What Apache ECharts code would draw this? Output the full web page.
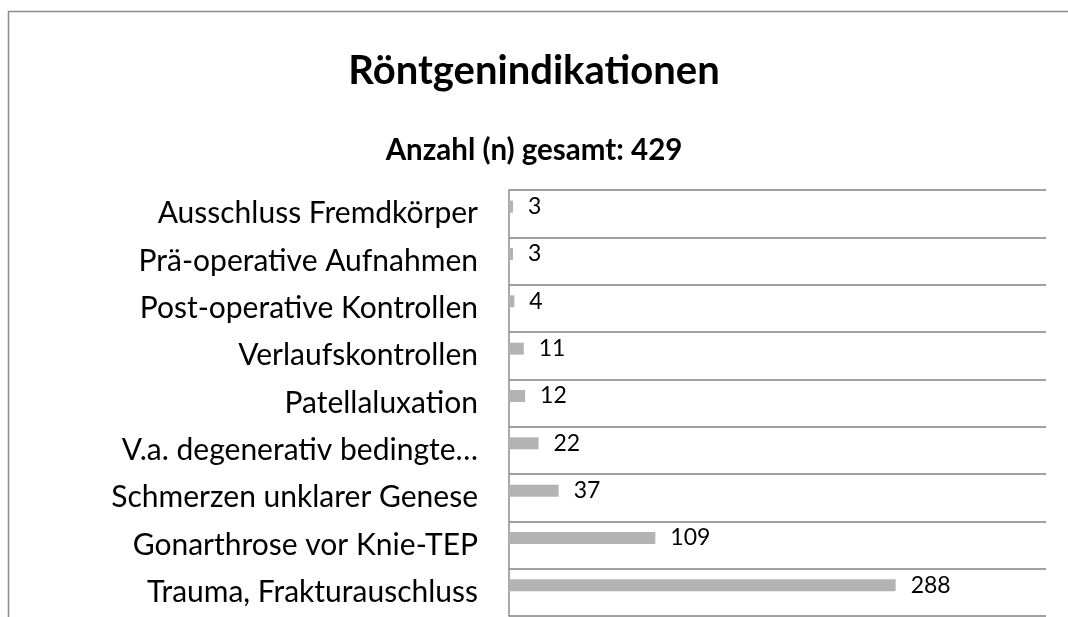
<!DOCTYPE html>
<html>
<head>
<meta charset="utf-8">
<script src="https://cdn.jsdelivr.net/npm/echarts@6/dist/echarts.min.js"></script>
<style>
  html, body { margin: 0; padding: 0; background: #fff; }
  #chart { width: 1068px; height: 617px; }
</style>
</head>
<body>
<div id="chart"></div>
<script>
// Kategorien von unten nach oben (ECharts-Kategorieachse beginnt unten)
const categories = [
  'Trauma, Frakturauschluss',
  'Gonarthrose vor Knie-TEP',
  'Schmerzen unklarer Genese',
  'V.a. degenerativ bedingte…',
  'Patellaluxation',
  'Verlaufskontrollen',
  'Post-operative Kontrollen',
  'Prä-operative Aufnahmen',
  'Ausschluss Fremdkörper'
]
const counts = [288, 109, 37, 22, 12, 11, 4, 3, 3]

const titleText = 'Röntgenindikationen'
const subtitleText = 'Anzahl (n) gesamt: 429'

const font = 'Lato, "Open Sans", sans-serif'

const chart = echarts.init(document.getElementById('chart'))

chart.setOption({
  backgroundColor: '#fff',
  animation: false,
  graphic: [{
    type: 'rect',
    shape: { x: 8.5, y: 11.5, width: 1200, height: 800 },
    style: { fill: 'none', stroke: '#8c8c8c', lineWidth: 1.5 },
    silent: true
  }],
  title: [
    {
      text: titleText,
      left: 529,
      textAlign: 'center',
      top: 46,
      textStyle: { fontFamily: font, fontSize: 40, fontWeight: 'bold', color: '#000' }
    },
    {
      text: subtitleText,
      left: 529,
      textAlign: 'center',
      top: 130,
      textStyle: { fontFamily: font, fontSize: 29.5, fontWeight: 'bold', color: '#000' }
    }
  ],
  grid: {
    left: 509,
    right: 22,
    top: 190,
    bottom: 1,
    containLabel: false
  },
  xAxis: {
    type: 'value',
    min: 0,
    max: 400,
    axisLabel: { show: false },
    axisLine: { show: false },
    axisTick: { show: false },
    splitLine: { show: false }
  },
  yAxis: {
    type: 'category',
    data: categories,
    axisLine: { show: true, lineStyle: { color: '#8c8c8c', width: 1.5 } },
    axisTick: { show: false },
    axisLabel: {
      fontFamily: font,
      fontSize: 30,
      color: '#000',
      margin: 31
    },
    splitLine: { show: true, lineStyle: { color: '#a0a0a0', width: 2 } }
  },
  series: [
    {
      type: 'bar',
      data: counts,
      barWidth: 12,
      barGap: '17%',
      itemStyle: { color: '#b3b3b3' },
      label: {
        show: true,
        position: 'right',
        distance: 15,
        fontFamily: font,
        fontSize: 23,
        color: '#000'
      }
    },
    // leere Zweitreihe wie im Original-Diagramm (verschiebt die Balken nach oben)
    { type: 'bar', data: [], barWidth: 12 }
  ]
})
</script>
</body>
</html>
